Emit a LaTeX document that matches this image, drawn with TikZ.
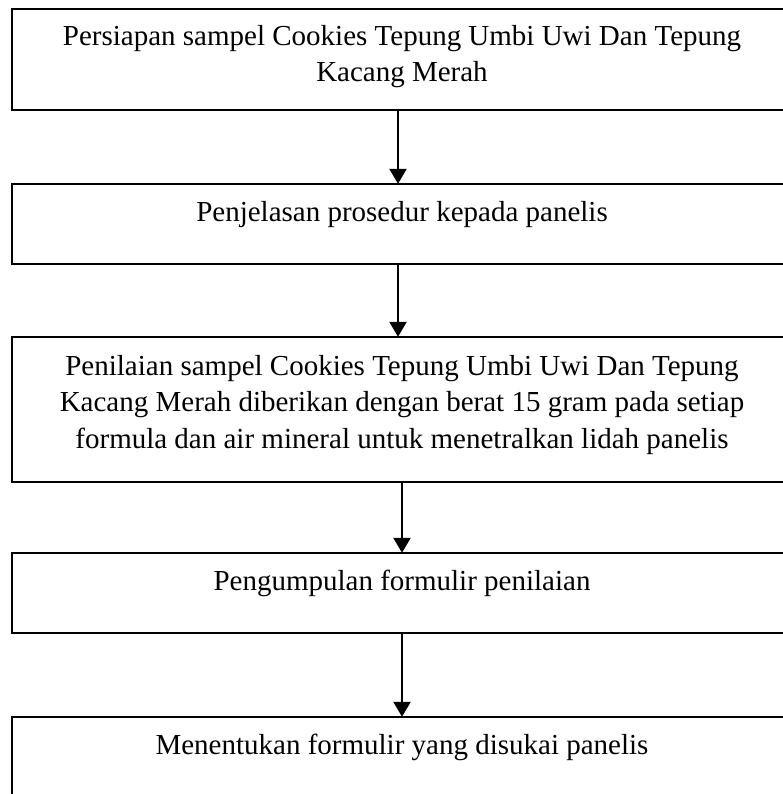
\documentclass[tikz,border=0pt]{standalone}
\usepackage{fontspec}
\setmainfont{Liberation Serif}
\usetikzlibrary{arrows.meta}
\tikzset{
  box/.style={draw=black, line width=2.4pt, rectangle, minimum width=780pt, inner sep=0pt},
  txt/.style={font=\fontsize{29}{36.5}\selectfont, align=center, inner sep=0pt, anchor=north},
  arr/.style={line width=2.4pt, -{Triangle[length=15pt,width=17pt]}, shorten >=-1pt}
}
\begin{document}
\begin{tikzpicture}[x=1pt,y=-1pt]
\useasboundingbox (0,0) rectangle (783,794);
\clip (0,0) rectangle (783,794);
\node[box, minimum height=101pt] (b1) at (402,59.5) {};
\node[box, minimum height=80pt] (b2) at (402,224) {};
\node[box, minimum height=145pt] (b3) at (402,409.5) {};
\node[box, minimum height=80pt] (b4) at (402,593) {};
\node[box, minimum height=80pt] (b5) at (402,757) {};
\node[txt] (t1) at (402,25) {Persiapan sampel Cookies Tepung Umbi Uwi Dan Tepung\\Kacang Merah};
\node[txt] (t2) at (402,201) {Penjelasan prosedur kepada panelis};
\node[txt] (t3) at (402,355) {Penilaian sampel Cookies Tepung Umbi Uwi Dan Tepung\\Kacang Merah diberikan dengan berat 15 gram pada setiap\\formula dan air mineral untuk menetralkan lidah panelis};
\node[txt] (t4) at (402,570) {Pengumpulan formulir penilaian};
\node[txt] (t5) at (402,734) {Menentukan formulir yang disukai panelis};
\draw[arr] (b1.south -| 398,0) -- (b2.north -| 398,0);
\draw[arr] (b2.south -| 398,0) -- (b3.north -| 398,0);
\draw[arr] (b3.south -| 402,0) -- (b4.north -| 402,0);
\draw[arr] (b4.south -| 402,0) -- (b5.north -| 402,0);
\end{tikzpicture}
\end{document}
